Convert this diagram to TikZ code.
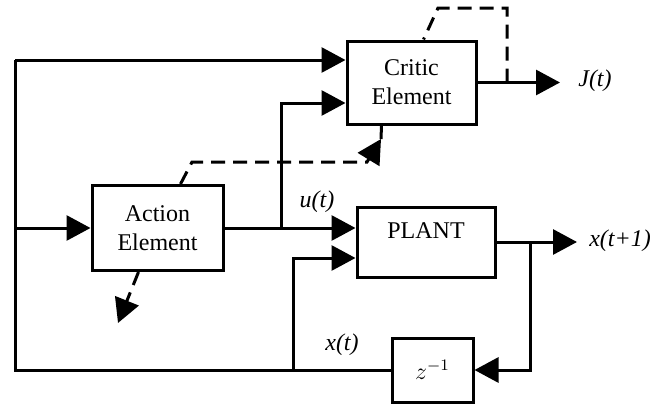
\documentclass[tikz,border=0pt]{standalone}
\usepackage{fontspec}
\setmainfont{Liberation Serif}
\usepackage{tikz}
\usetikzlibrary{positioning, arrows.meta, calc}

\tikzset{
  block/.style={draw, line width=1.5pt, inner sep=0pt, align=center,
                font=\fontsize{12}{14.5}\selectfont},
  wire/.style={line width=1.5pt},
  sig/.style={wire, -{Triangle[length=12pt, width=12.5pt]}},
  adapt/.style={line width=1.5pt, dash pattern=on 7pt off 4pt},
  adaptsig/.style={adapt, -{Triangle[length=12pt, width=12.5pt]}},
  lbl/.style={font=\fontsize{12}{12}\selectfont\itshape, inner sep=0pt}
}

\begin{document}
\begin{tikzpicture}[x=0.5pt, y=-0.5pt]
  \useasboundingbox (0,0) rectangle (665,407);

  \node[block, minimum width=64.5pt, minimum height=41.5pt] (critic) at (411.5,82.5) {Critic\\Element};
  \node[block, minimum width=65.5pt, minimum height=42.5pt] (action) at (157.5,228) {Action\\Element};
  \node[block, minimum width=69pt, minimum height=35pt,
        label={[anchor=center, yshift=-12.5pt, font=\fontsize{12}{12}\selectfont]north:PLANT}] (plant) at (426,242) {};
  \node[block, minimum width=40.5pt, minimum height=32pt] (delay) at (432.5,370) {$z^{-1}$};

  \node[lbl] (jlab) at (595,81) {J(t)};
  \node[lbl] (ulab) at (317,202) {u(t)};
  \node[lbl] (xnext) at (620,241) {x(t+1)};
  \node[lbl] (xlab) at (342,345) {x(t)};

  \coordinate (bustop) at (15,60);
  \coordinate (busbot) at (15,370);
  \coordinate (ujoin) at (281,228);
  \coordinate (xjoin) at (293,370);
  \coordinate (ytap) at (530,242);
  \coordinate (ytip) at (577,242);
  \coordinate (jtap) at (507,82.5);
  \coordinate (jtip) at (560,82.5);
  \coordinate (ctop1) at (507,8);
  \coordinate (ctop2) at (438,8);
  \coordinate (ad1) at (192,162);
  \coordinate (ad2) at (367,162);
  \coordinate (ad3) at (381,139);
  \coordinate (aout) at (118,323);

  % signal paths
  \draw[wire] (delay.west) -- (busbot) -- (bustop);
  \draw[sig] (bustop) -- (bustop -| critic.west);
  \draw[sig] (bustop |- action.west) -- (action.west);
  \draw[sig] (action.east) -- (action.east -| plant.west);
  \draw[sig] (ujoin) |- ($(critic.west)+(0,20.5)$);
  \draw[sig] (xjoin) |- ($(plant.west)+(0,16)$);
  \draw[sig] (plant.east) -- (ytip);
  \draw[sig] (ytap) |- (delay.east);
  \draw[sig] (critic.east) -- (jtip);

  % adaptation paths
  \draw[adapt] (jtap) -- (ctop1) -- (ctop2) -- ($(critic.north west)+(78,0)$);
  \draw[adaptsig] ($(action.north west)+(90,0)$) -- (ad1) -- (ad2) -- (ad3);
  \draw[adapt] (ad3) -- ($(critic.south west)+(36,0)$);
  \draw[adaptsig] ($(action.south west)+(48,0)$) -- (aout);
\end{tikzpicture}
\end{document}
